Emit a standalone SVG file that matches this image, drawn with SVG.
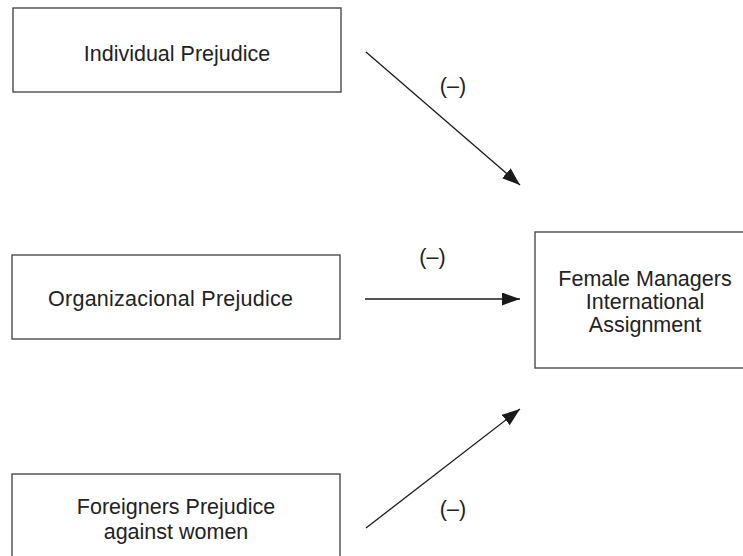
<svg xmlns="http://www.w3.org/2000/svg" width="743" height="556" viewBox="0 0 743 556">
<style>
.box{fill:#fff;stroke:#4a4a4a;stroke-width:1.4}
.t{font-family:"Liberation Sans",Arial,sans-serif;font-size:21.5px;fill:#222;text-anchor:middle}
.c{stroke:#1a1a1a;stroke-width:1.3;fill:none;marker-end:url(#ah)}
</style>
<defs>
<marker id="ah" markerUnits="userSpaceOnUse" markerWidth="20" markerHeight="14" refX="18" refY="6.5" orient="auto">
<path d="M0,0 L18,6.5 L0,13 Z" fill="#1a1a1a"/>
</marker>
</defs>
<rect width="743" height="556" fill="#fff"/>
<g id="individual">
<rect class="box" x="13" y="8" width="328" height="84"/>
<text class="t" x="177" y="61">Individual Prejudice</text>
</g>
<g id="organizational">
<rect class="box" x="12" y="255" width="328" height="84"/>
<text class="t" x="170.5" y="306" textLength="245" lengthAdjust="spacing">Organizacional Prejudice</text>
</g>
<g id="foreigners">
<rect class="box" x="12" y="474" width="328" height="100"/>
<text class="t" x="176" y="514">Foreigners Prejudice</text>
<text class="t" x="176" y="539">against women</text>
</g>
<g id="female">
<rect class="box" x="535" y="232" width="230" height="136"/>
<text class="t" x="645" y="286">Female Managers</text>
<text class="t" x="645" y="309">International</text>
<text class="t" x="645" y="332">Assignment</text>
</g>
<g id="connectors">
<line class="c" x1="366" y1="52" x2="520" y2="185"/>
<line class="c" x1="365" y1="299" x2="520" y2="299"/>
<line class="c" x1="366" y1="528" x2="520" y2="409"/>
<text class="t" x="453" y="93">(–)</text>
<text class="t" x="432.5" y="264">(–)</text>
<text class="t" x="453" y="516">(–)</text>
</g>
</svg>
